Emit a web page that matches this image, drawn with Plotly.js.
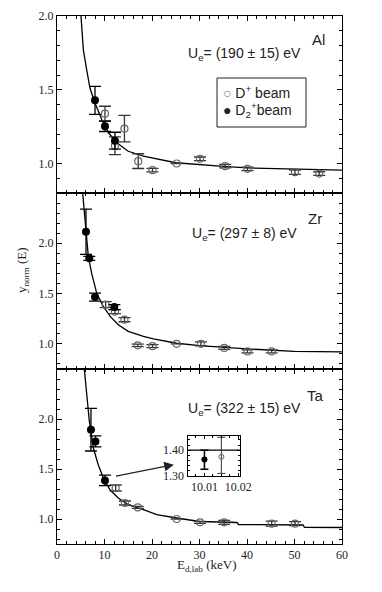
<!DOCTYPE html>
<html>
<head>
<meta charset="utf-8">
<script src="https://cdn.plot.ly/plotly-3.0.1.min.js"></script>
<style>html,body{margin:0;padding:0;background:#fff;}#chart{width:382px;height:592px;}</style>
</head>
<body>
<div id="chart"></div>
<script>
// ---- Fit curves ----
const alCurveE = [5.05, 5.2, 5.55, 6.25, 6.95, 8, 9.4, 10.8, 12.6, 15, 18.2, 25, 30, 35, 40, 50, 60];
const alCurveY = [2.0, 1.905, 1.77, 1.635, 1.51, 1.41, 1.30, 1.21, 1.14, 1.083, 1.05, 1.005, 0.99, 0.98, 0.97, 0.96, 0.955];
const zrCurveE = [5.4, 5.75, 6.1, 6.6, 7.3, 8.35, 9.75, 11.2, 12.9, 15, 18.2, 20.3, 25.2, 30, 40, 50, 60];
const zrCurveY = [2.5, 2.33, 2.13, 1.867, 1.70, 1.505, 1.372, 1.273, 1.19, 1.125, 1.075, 1.05, 1.006, 0.983, 0.95, 0.925, 0.92];
const taCurveE = [5.75, 6.1, 6.4, 6.8, 7.65, 8.7, 9.75, 11.2, 12.9, 15, 18.2, 21, 25.2, 30, 37.9, 38.2, 51.8, 52.1, 60];
const taCurveY = [2.5, 2.34, 2.18, 1.98, 1.71, 1.54, 1.41, 1.29, 1.21, 1.143, 1.093, 1.043, 1.01, 0.975, 0.965, 0.945, 0.94, 0.917, 0.915];

// ---- Al data ----
const alOpenE = [10.1, 12.2, 14.2, 17.1, 20.1, 25.2, 30.1, 35.4, 40.1, 50.1, 55.2];
const alOpenY = [1.338, 1.12, 1.236, 1.016, 0.955, 1.0, 1.032, 0.982, 0.964, 0.941, 0.932];
const alOpenErr = [0.05, 0.06, 0.09, 0.05, 0.012, 0, 0.012, 0.012, 0.012, 0.015, 0.012];
const alFillE = [8.0, 10.1, 12.2];
const alFillY = [1.428, 1.252, 1.155];
const alFillErr = [0.095, 0.035, 0.057];

// ---- Zr data ----
const zrOpenE = [10.25, 12.2, 14.2, 17.0, 20.1, 25.2, 30.3, 35.2, 40.1, 45.2];
const zrOpenY = [1.39, 1.32, 1.24, 0.985, 0.977, 1.0, 1.0, 0.96, 0.925, 0.925];
const zrOpenErr = [0.03, 0.02, 0.02, 0.012, 0.015, 0, 0.02, 0.015, 0.015, 0.015];
const zrFillE = [6.1, 6.8, 8.0, 12.07];
const zrFillY = [2.115, 1.85, 1.465, 1.366];
const zrFillErr = [0.225, 0.02, 0.04, 0.025];

// ---- Ta data ----
const taOpenE = [12.35, 14.3, 17.0, 25.2, 30.1, 35.2, 45.2, 50.1];
const taOpenY = [1.31, 1.16, 1.116, 1.0, 0.967, 0.967, 0.953, 0.953];
const taOpenErr = [0.03, 0.02, 0.01, 0, 0.01, 0.02, 0.025, 0.02];
const taFillE = [7.15, 8.1, 10.1];
const taFillY = [1.893, 1.776, 1.386];
const taFillErr = [0.213, 0.055, 0.053];

// ---- Inset (Ta, around 10 keV) ----
const insFillE = [10.010];
const insFillY = [1.364];
const insFillErrPlus = [0.036];
const insFillErrMinus = [0.038];
const insOpenE = [10.015];
const insOpenY = [1.374];
const insOpenErrPlus = [0.076];
const insOpenErrMinus = [0.064];
const insLineE = [10.005, 10.0205];
const insLineY = [1.40, 1.40];

const xTicks = [0, 10, 20, 30, 40, 50, 60];
const yTicks = [1.0, 1.5, 2.0];
const insXTicks = [10.01, 10.02];
const insYTicks = [1.30, 1.40];
const legendLabels = ['D<sup>+</sup> beam', 'D<sub>2</sub><sup>+</sup>beam'];

const serif = '"Liberation Serif", "Times New Roman", serif';
const sans = '"Liberation Sans", Arial, sans-serif';
const openColor = '#666';

function curve(x, y, xa, ya) {
  return {x: x, y: y, xaxis: xa, yaxis: ya, mode: 'lines', type: 'scatter',
    line: {color: '#000', width: 1.3}, showlegend: false, hoverinfo: 'skip'};
}
function pts(x, y, err, xa, ya, filled) {
  return {x: x, y: y, xaxis: xa, yaxis: ya, mode: 'markers', type: 'scatter', showlegend: false,
    marker: filled ? {symbol: 'circle', size: 8, color: '#000'}
                   : {symbol: 'circle-open', size: 7, color: openColor, line: {width: 1.2, color: openColor}},
    error_y: {type: 'data', array: err, visible: true, color: filled ? '#000' : '#333', thickness: 1.3, width: 6}};
}

const traces = [
  curve(alCurveE, alCurveY, 'x', 'y'),
  pts(alOpenE, alOpenY, alOpenErr, 'x', 'y', false),
  pts(alFillE, alFillY, alFillErr, 'x', 'y', true),
  curve(zrCurveE, zrCurveY, 'x2', 'y2'),
  pts(zrOpenE, zrOpenY, zrOpenErr, 'x2', 'y2', false),
  pts(zrFillE, zrFillY, zrFillErr, 'x2', 'y2', true),
  curve(taCurveE, taCurveY, 'x3', 'y3'),
  pts(taOpenE, taOpenY, taOpenErr, 'x3', 'y3', false),
  pts(taFillE, taFillY, taFillErr, 'x3', 'y3', true),
  curve(insLineE, insLineY, 'x4', 'y4'),
  {x: insFillE, y: insFillY, xaxis: 'x4', yaxis: 'y4', mode: 'markers', type: 'scatter', showlegend: false,
   marker: {symbol: 'circle', size: 6, color: '#000'},
   error_y: {type: 'data', symmetric: false, array: insFillErrPlus, arrayminus: insFillErrMinus, color: '#000', thickness: 1.5, width: 4}},
  {x: insOpenE, y: insOpenY, xaxis: 'x4', yaxis: 'y4', mode: 'markers', type: 'scatter', showlegend: false,
   marker: {symbol: 'circle-open', size: 5, color: openColor},
   error_y: {type: 'data', symmetric: false, array: insOpenErrPlus, arrayminus: insOpenErrMinus, color: '#333', thickness: 1, width: 4}}
];

const H = 528, W = 285;
const d3 = [0, 175 / H];
const d2 = [175 / H, 351 / H];
const d1 = [351 / H, 1];
const px = v => (v - 57) / W;
const py = v => (544 - v) / H;

function xax(showLabels, anchor) {
  return {
    anchor: anchor, range: [0, 60], tickmode: 'array', tickvals: xTicks,
    ticks: 'inside', ticklen: 5, tickcolor: '#000', tickwidth: 1,
    minor: {tickmode: 'linear', tick0: 0, dtick: 2, ticks: 'inside', ticklen: 3, tickcolor: '#000'},
    showline: true, linecolor: '#000', linewidth: 1, mirror: 'allticks',
    showgrid: false, zeroline: false, showticklabels: showLabels,
    tickfont: {family: serif, size: 12, color: '#222'}
  };
}
function yax(domain, range, anchor) {
  return {
    anchor: anchor, domain: domain, range: range, tickmode: 'array', tickvals: yTicks,
    ticktext: yTicks.map(v => v.toFixed(1)),
    ticks: 'inside', ticklen: 5, tickcolor: '#000',
    minor: {tickmode: 'linear', tick0: 0, dtick: 0.1, ticks: 'inside', ticklen: 3, tickcolor: '#000'},
    showline: true, linecolor: '#000', linewidth: 1, mirror: 'allticks',
    showgrid: false, zeroline: false,
    tickfont: {family: serif, size: 12, color: '#222'}
  };
}
function label(x, y, text, font, extra) {
  return Object.assign({xref: 'paper', yref: 'paper', x: px(x), y: py(y), text: text, showarrow: false,
    xanchor: 'center', yanchor: 'middle', font: font}, extra || {});
}
const sansF = {family: sans, size: 14, color: '#222'};
const sansBig = {family: sans, size: 15, color: '#222'};
const serifF = {family: serif, size: 13, color: '#222'};

const layout = {
  width: 382, height: 592,
  margin: {l: 57, r: 40, t: 16, b: 48},
  paper_bgcolor: '#fff', plot_bgcolor: '#fff',
  showlegend: false,
  xaxis: xax(false, 'y'),
  yaxis: yax(d1, [0.8, 2.0], 'x'),
  xaxis2: xax(false, 'y2'),
  yaxis2: yax(d2, [0.75, 2.5], 'x2'),
  xaxis3: xax(true, 'y3'),
  yaxis3: yax(d3, [0.75, 2.5], 'x3'),
  xaxis4: {anchor: 'y4', domain: [px(187.5), px(240)], range: [10.005, 10.0205],
    tickmode: 'array', tickvals: insXTicks, ticktext: insXTicks.map(v => v.toFixed(2)),
    ticks: 'inside', ticklen: 3, tickcolor: '#000',
    minor: {tickmode: 'linear', tick0: 10, dtick: 0.0025, ticks: 'inside', ticklen: 2, tickcolor: '#000'},
    showline: true, linecolor: '#000', linewidth: 1, mirror: 'allticks', showgrid: false, zeroline: false,
    tickfont: {family: serif, size: 12, color: '#222'}},
  yaxis4: {anchor: 'x4', domain: [py(476), py(436)], range: [1.30, 1.455],
    tickmode: 'array', tickvals: insYTicks, ticktext: insYTicks.map(v => v.toFixed(2)),
    ticks: 'inside', ticklen: 3, tickcolor: '#000',
    minor: {tickmode: 'linear', tick0: 1.3, dtick: 0.02, ticks: 'inside', ticklen: 2, tickcolor: '#000'},
    showline: true, linecolor: '#000', linewidth: 1, mirror: 'allticks', showgrid: false, zeroline: false,
    tickfont: {family: serif, size: 12, color: '#222'}},
  shapes: [
    {type: 'rect', xref: 'paper', yref: 'paper', x0: px(217), x1: px(306), y0: py(127), y1: py(78),
     line: {color: '#222', width: 1}, fillcolor: 'rgba(0,0,0,0)'}
  ],
  annotations: [
    label(318, 40, 'Al', sansBig),
    label(244, 54, 'U<sub>e</sub>= (190 ± 15) eV', sansF),
    label(315, 218, 'Zr', sansBig),
    label(244, 234, 'U<sub>e</sub>= (297 ± 8) eV', sansF),
    label(315, 395, 'Ta', sansBig),
    label(244, 409, 'U<sub>e</sub>= (322 ± 15) eV', sansF),
    label(221, 92, '<span style="color:#777">○</span> ' + legendLabels[0], sansF, {xanchor: 'left'}),
    label(221, 110, '● ' + legendLabels[1], sansF, {xanchor: 'left'}),
    label(22, 270, 'y<sub>norm</sub> (E)', serifF, {textangle: -90}),
    label(206, 565, 'E<sub>d,lab</sub> (keV)', serifF),
    {xref: 'x3', yref: 'y3', x: 24.6, y: 1.543, axref: 'x3', ayref: 'y3', ax: 12.1, ay: 1.426,
     text: '', showarrow: true, arrowhead: 2, arrowsize: 1.6, arrowwidth: 1.2, arrowcolor: '#222'}
  ]
};

Plotly.newPlot('chart', traces, layout, {displayModeBar: false, staticPlot: true});
</script>
</body>
</html>
